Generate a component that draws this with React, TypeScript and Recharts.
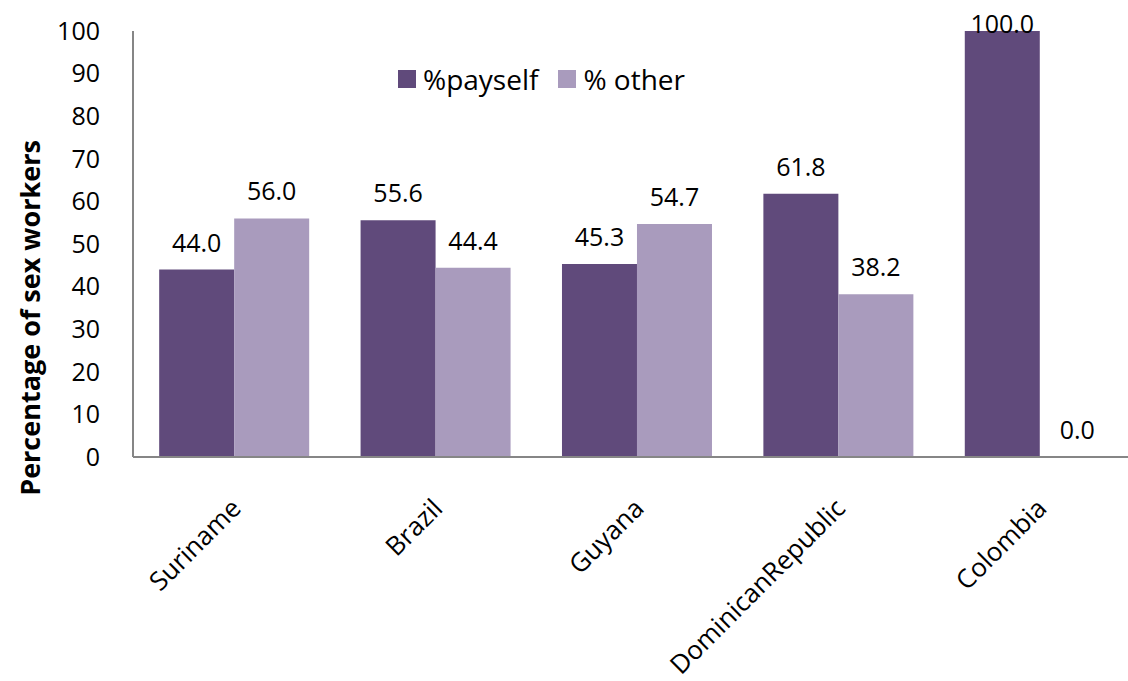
import React from "react";
import { BarChart, Bar, XAxis, YAxis } from "recharts";

const countries = ["Suriname", "Brazil", "Guyana", "DominicanRepublic", "Colombia"];
const paySelf = [44.0, 55.6, 45.3, 61.8, 100.0];
const other = [56.0, 44.4, 54.7, 38.2, 0.0];
const yTicks = [0, 10, 20, 30, 40, 50, 60, 70, 80, 90, 100];

const DARK = "#604a7b";
const LIGHT = "#a99bbd";
const FONT = "'Open Sans', sans-serif";

const data = countries.map((c, i) => ({ country: c, payself: paySelf[i], other: other[i] }));

// zero-height bars get no label otherwise; a hairline keeps the "0.0" label
const hairline = (value: any) => (Number(value) === 0 ? 0.01 : 0);

const XTick = (props: any) => {
  const { x, y, payload } = props;
  const ax = x + 9;
  const ay = y + 53;
  return (
    <text
      x={ax}
      y={ay}
      textAnchor="end"
      transform={`rotate(-45, ${ax}, ${ay})`}
      fontSize={26}
      fontFamily={FONT}
      fill="#000"
    >
      {payload.value}
    </text>
  );
};

const ValueLabel = (props: any) => {
  const { x, y, width, height, value } = props;
  const top = height < 0 ? y + height : y;
  const ty = Math.max(top - 18, 33);
  return (
    <text x={x + width / 2} y={ty} textAnchor="middle" fontSize={25} fontFamily={FONT} fill="#000">
      {Number(value).toFixed(1)}
    </text>
  );
};

const YTitle = () => (
  <text
    x={40}
    y={318}
    textAnchor="middle"
    transform="rotate(-90, 40, 318)"
    fontSize={27}
    fontWeight="bold"
    fontFamily={FONT}
    fill="#000"
  >
    Percentage of sex workers
  </text>
);

function LegendBox() {
  const item = (color: string, label: string) => (
    <span style={{ display: "inline-flex", alignItems: "center", marginRight: 20 }}>
      <span style={{ width: 18, height: 18, background: color, display: "inline-block", marginRight: 7 }} />
      <span>{label}</span>
    </span>
  );
  return (
    <div
      style={{
        position: "absolute",
        left: 398,
        top: 61,
        fontFamily: FONT,
        fontSize: 28,
        color: "#000",
        display: "flex",
        lineHeight: "36px",
      }}
    >
      {item(DARK, "%payself")}
      {item(LIGHT, "% other")}
    </div>
  );
}

export default function App() {
  return (
    <div
      style={{
        position: "absolute",
        left: 0,
        top: 0,
        width: 1128,
        height: 681,
        overflow: "hidden",
        background: "#fff",
      }}
    >
      <BarChart
        width={1140}
        height={681}
        data={data}
        margin={{ top: 31, right: 0, left: 0, bottom: 0 }}
        barCategoryGap="13%"
        barGap={0}
      >
        <XAxis
          dataKey="country"
          interval={0}
          height={224}
          tickLine={false}
          tickSize={0}
          tickMargin={0}
          axisLine={{ stroke: "#868686", strokeWidth: 2 }}
          tick={<XTick />}
        />
        <YAxis
          width={133}
          domain={[0, 100]}
          ticks={yTicks}
          interval={0}
          tickLine={false}
          tickSize={0}
          tickMargin={33}
          axisLine={{ stroke: "#868686", strokeWidth: 2 }}
          tick={{ fontSize: 25, fontFamily: FONT, fill: "#000" }}
          label={{ content: () => <YTitle /> }}
        />
        <Bar dataKey="payself" fill={DARK} isAnimationActive={false} minPointSize={hairline} label={<ValueLabel />} />
        <Bar dataKey="other" fill={LIGHT} isAnimationActive={false} minPointSize={hairline} label={<ValueLabel />} />
      </BarChart>
      <LegendBox />
    </div>
  );
}
